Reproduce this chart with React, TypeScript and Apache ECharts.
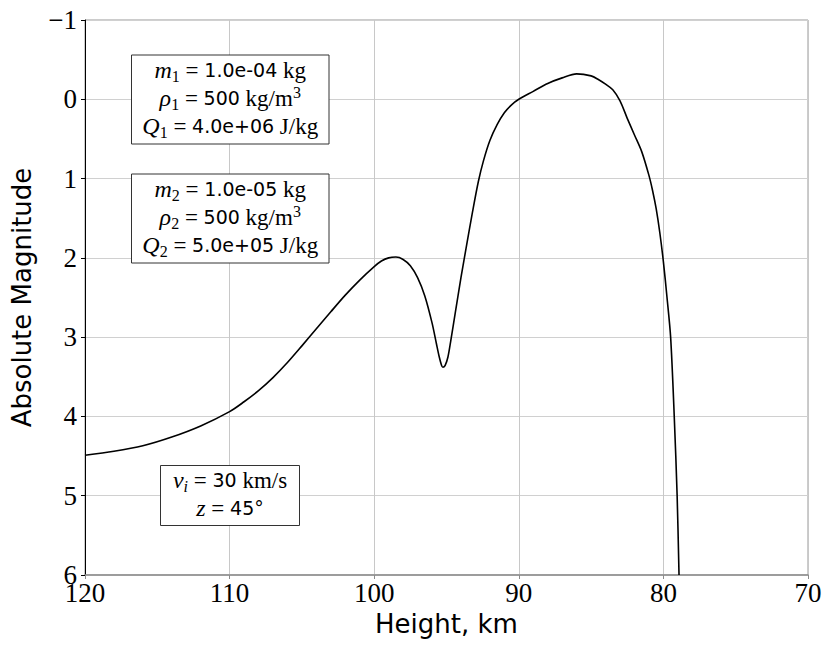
import React, { useEffect, useRef } from "react";
import * as echarts from "echarts";

// Curve: height (km) vs absolute magnitude
const heights = [
  120, 118, 116, 114, 112, 110, 109, 108, 107, 106, 105, 104, 103, 102, 101, 100, 99.5, 99,
  98.5, 98, 97.5, 97, 96.5, 96, 95.7, 95.5, 95.35, 95.25, 95.1, 94.9, 94.7, 94.4, 94, 93.6,
  93.2, 92.8, 92.45, 92, 91.5, 91, 90.5, 90, 89, 88, 87, 86, 85, 84.5, 84, 83.5, 83, 82.5, 82,
  81.5, 81, 80.75, 80.5, 80.25, 80, 79.75, 79.5, 79.25, 79.05, 78.92,
];
const magnitudes = [
  4.49, 4.44, 4.37, 4.26, 4.12, 3.94, 3.815, 3.675, 3.51, 3.32, 3.11, 2.895, 2.68, 2.47, 2.28,
  2.11, 2.04, 2.0, 1.99, 2.02, 2.1, 2.25, 2.48, 2.82, 3.08, 3.25, 3.35, 3.38, 3.36, 3.25, 3.04,
  2.7, 2.25, 1.83, 1.42, 1.04, 0.78, 0.52, 0.32, 0.17, 0.07, 0.0, -0.1, -0.2, -0.27, -0.32,
  -0.295, -0.25, -0.19, -0.12, 0.02, 0.24, 0.45, 0.66, 0.96, 1.15, 1.38, 1.68, 2.05, 2.5, 3.0,
  4.0, 5.0, 6.0,
];

const xTicks = [120, 110, 100, 90, 80, 70];
const yTicks = [-1, 0, 1, 2, 3, 4, 5, 6];

const box1Lines = [
  "{mi|m}{sub|1}{rm| = }{sf|1.0e-04}{rm| kg}",
  "{mi|ρ}{sub|1}{rm| = }{sf|500}{rm| kg/m}{sup|3}",
  "{mi|Q}{sub|1}{rm| = }{sf|4.0e+06}{rm| J/kg}",
];
const box2Lines = [
  "{mi|m}{sub|2}{rm| = }{sf|1.0e-05}{rm| kg}",
  "{mi|ρ}{sub|2}{rm| = }{sf|500}{rm| kg/m}{sup|3}",
  "{mi|Q}{sub|2}{rm| = }{sf|5.0e+05}{rm| J/kg}",
];
const box3Lines = [
  "{mi|v}{subi|i}{rm| = }{sf|30}{rm| km/s}",
  "{mi|z}{rm| = }{sf|45°}",
];

const SERIF = "'Liberation Serif', 'DejaVu Serif', serif";
const SANS = "'DejaVu Sans', sans-serif";

const rich = {
  mi: { fontFamily: SERIF, fontStyle: "italic", fontSize: 24, lineHeight: 28, fill: "#000" },
  rm: { fontFamily: SERIF, fontSize: 23, lineHeight: 28, fill: "#000" },
  sf: { fontFamily: SANS, fontSize: 19, lineHeight: 28, fill: "#000" },
  sub: { fontFamily: SERIF, fontSize: 16, lineHeight: 14, verticalAlign: "bottom", fill: "#000" },
  subi: {
    fontFamily: SERIF,
    fontStyle: "italic",
    fontSize: 16,
    lineHeight: 14,
    verticalAlign: "bottom",
    fill: "#000",
  },
  sup: { fontFamily: SERIF, fontSize: 16, lineHeight: 14, verticalAlign: "top", fill: "#000" },
};

function makeBox(x: number, y: number, w: number, h: number, lines: string[], cy: number) {
  return {
    type: "group",
    children: [
      {
        type: "rect",
        shape: { x, y, width: w, height: h },
        style: { fill: "#fff", stroke: "#333", lineWidth: 1 },
        z: 10,
      },
      {
        type: "text",
        x: x + w / 2,
        y: cy,
        z: 11,
        style: {
          text: lines.join("\n"),
          rich,
          align: "center",
          verticalAlign: "middle",
          fill: "#000",
        },
      },
    ],
  };
}

export default function App() {
  const ref = useRef<HTMLDivElement>(null);
  useEffect(() => {
    document.body.style.margin = "0";
    const chart = echarts.init(ref.current!, undefined, { renderer: "svg" });
    const data = heights.map((h, i) => [h, magnitudes[i]]);
    chart.setOption({
      animation: false,
      backgroundColor: "#fff",
      grid: {
        left: 85,
        right: 22,
        top: 20,
        bottom: 78,
        show: true,
        borderColor: "#999",
        borderWidth: 1,
      },
      xAxis: {
        type: "value",
        min: 70,
        max: 120,
        interval: 10,
        inverse: true,
        name: "Height, km",
        nameLocation: "middle",
        nameGap: 29,
        nameTextStyle: { fontFamily: SANS, fontSize: 26, color: "#000" },
        axisLine: { show: true, onZero: false, lineStyle: { color: "#8c8c8c", width: 1.5 } },
        axisTick: { show: true, length: 4, inside: false, lineStyle: { color: "#8c8c8c" } },
        axisLabel: {
          fontFamily: SERIF,
          fontSize: 27,
          color: "#000",
          margin: 4,
          formatter: (v: number) => (xTicks.includes(v) ? String(v) : ""),
        },
        splitLine: { show: true, lineStyle: { color: "#c8c8c8", width: 1 } },
      },
      yAxis: {
        type: "value",
        min: -1,
        max: 6,
        interval: 1,
        inverse: true,
        name: "Absolute Magnitude",
        nameLocation: "middle",
        nameGap: 50,
        nameTextStyle: { fontFamily: SANS, fontSize: 26, color: "#000" },
        axisLine: { show: true, onZero: false, lineStyle: { color: "#000", width: 1 } },
        axisTick: { show: true, length: 4, lineStyle: { color: "#000" } },
        axisLabel: {
          fontFamily: SERIF,
          fontSize: 27,
          color: "#000",
          margin: 8,
          formatter: (v: number) =>
            yTicks.includes(v) ? (v < 0 ? "\u2212" + Math.abs(v) : String(v)) : "",
        },
        splitLine: { show: true, lineStyle: { color: "#d0d0d0", width: 1 } },
      },
      series: [
        {
          type: "line",
          data,
          showSymbol: false,
          smooth: 0.3,
          clip: true,
          lineStyle: { color: "#000", width: 1.6 },
          z: 5,
        },
      ],
      graphic: [
        makeBox(131.5, 55, 197.5, 89, box1Lines, 98),
        makeBox(131.5, 174, 197.5, 89, box2Lines, 217),
        makeBox(160.5, 465.5, 139, 60, box3Lines, 494),
      ],
    });
    return () => chart.dispose();
  }, []);
  return <div ref={ref} style={{ width: 830, height: 653 }} />;
}
